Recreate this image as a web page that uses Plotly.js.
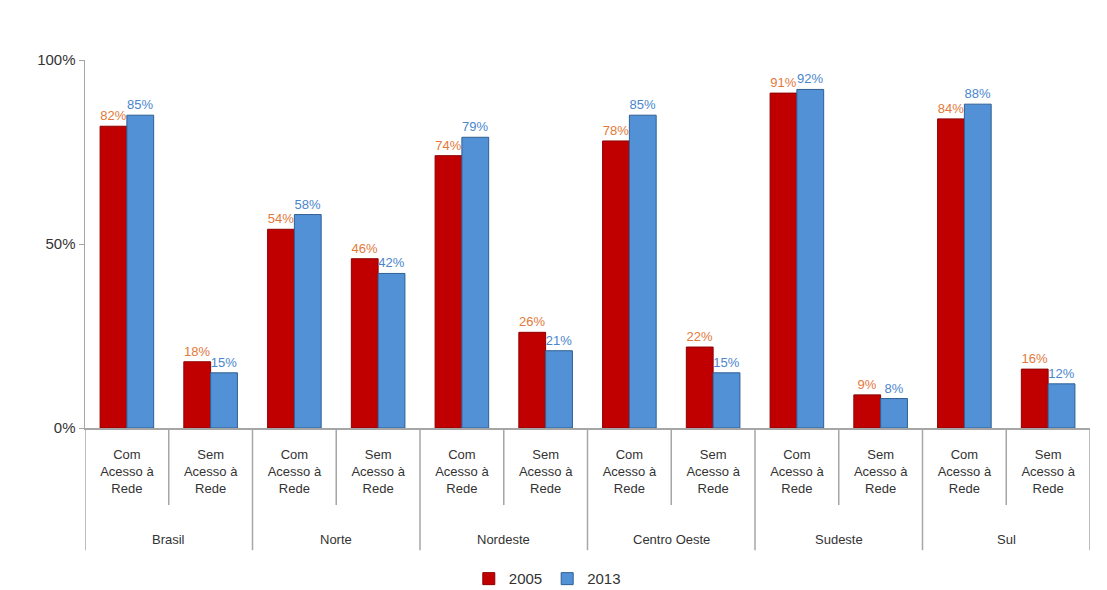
<!DOCTYPE html>
<html>
<head>
<meta charset="utf-8">
<script src="https://cdn.plot.ly/plotly-3.0.1.min.js"></script>
<style>html,body{margin:0;padding:0;background:#fff;}#chart{width:1107px;height:590px;}</style>
</head>
<body>
<div id="chart"></div>
<script>
const regions = ["Brasil", "Norte", "Nordeste", "Centro Oeste", "Sudeste", "Sul"];
const subcats = ["Com<br>Acesso à<br>Rede", "Sem<br>Acesso à<br>Rede"];
const series2005 = [82, 18, 54, 46, 74, 26, 78, 22, 91, 9, 84, 16];
const series2013 = [85, 15, 58, 42, 79, 21, 85, 15, 92, 8, 88, 12];
const yTickVals = [0, 50, 100];

const xIdx = series2005.map((_, i) => i);
const tickText = xIdx.map(i => subcats[i % 2]);

const font = "Liberation Sans, Arial, sans-serif";

const traces = [
  {
    type: "bar", name: "2005", x: xIdx, y: series2005,
    marker: {color: "#C00000", line: {color: "#8E0000", width: 1}},
    text: series2005.map(v => v + "%"), textposition: "outside", constraintext: "none",
    textfont: {color: "#E2793A", size: 13, family: font},
    cliponaxis: false, hoverinfo: "skip"
  },
  {
    type: "bar", name: "2013", x: xIdx, y: series2013,
    marker: {color: "#5391D6", line: {color: "#2F5F94", width: 1}},
    text: series2013.map(v => v + "%"), textposition: "outside", constraintext: "none",
    textfont: {color: "#4A86CC", size: 13, family: font},
    cliponaxis: false, hoverinfo: "skip"
  }
];

const shapes = [];
const n = xIdx.length;
for (let b = 0; b <= n; b++) {
  const isRegion = b % 2 === 0;
  shapes.push({
    type: "line", xref: "x", yref: "paper",
    x0: b - 0.5, x1: b - 0.5, y0: 0, y1: isRegion ? -0.332 : -0.209,
    line: {color: "#A6A6A6", width: 1.5}
  });
}

const annotations = regions.map((r, i) => ({
  text: r, xref: "x", yref: "paper", x: 2 * i + 0.5, y: -0.304,
  showarrow: false, yanchor: "middle", font: {family: font, size: 13, color: "#333"}
}));

const layout = {
  width: 1107, height: 590,
  margin: {l: 85, r: 17, t: 60, b: 162, autoexpand: false},
  paper_bgcolor: "#fff", plot_bgcolor: "#fff",
  barmode: "group", bargap: 0.36, bargroupgap: 0,
  font: {family: font, color: "#333"},
  xaxis: {
    range: [-0.5, n - 0.5], tickvals: xIdx, ticktext: tickText,
    showgrid: false, zeroline: false, showline: true, linecolor: "#A6A6A6", linewidth: 1.5,
    ticks: "", ticklabelstandoff: 14,
    tickfont: {family: font, size: 13, color: "#333"}
  },
  yaxis: {
    range: [0, 100], tickvals: yTickVals, ticktext: yTickVals.map(v => v + "%"),
    showgrid: false, zeroline: false, showline: true, linecolor: "#A6A6A6", linewidth: 1.5,
    ticks: "outside", ticklen: 5, tickcolor: "#A6A6A6",
    tickfont: {family: font, size: 15, color: "#333"}
  },
  legend: {
    orientation: "h", x: 0.46, xanchor: "center", y: -0.41, yanchor: "middle",
    font: {family: font, size: 15, color: "#333"}, itemwidth: 30
  },
  shapes: shapes,
  annotations: annotations
};

Plotly.newPlot("chart", traces, layout, {displayModeBar: false, staticPlot: true});
</script>
</body>
</html>
